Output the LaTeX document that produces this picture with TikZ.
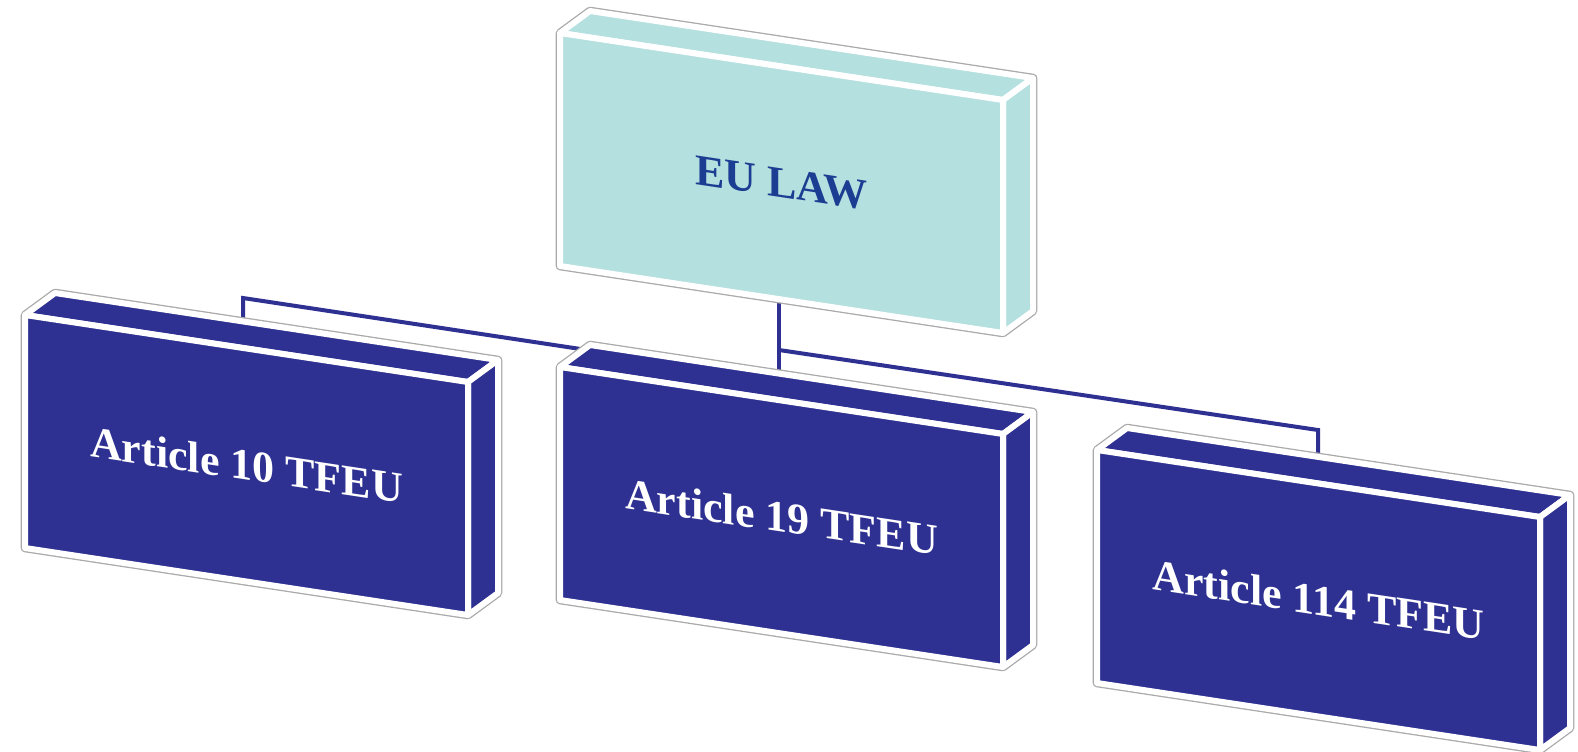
\documentclass[tikz,border=0pt]{standalone}
\usepackage{fontspec}
\setmainfont{Liberation Serif}
\definecolor{boxblue}{RGB}{46,49,146}
\definecolor{boxteal}{RGB}{181,224,224}
\definecolor{lawblue}{RGB}{28,62,146}
\definecolor{rimgray}{RGB}{170,170,170}
\tikzset{
  rim/.style={draw=rimgray, line width=4.3pt, line join=round},
  face/.style={draw=white, line width=3pt, line join=round},
  conn/.style={draw=boxblue, line width=2pt},
  lbl/.style={font=\fontsize{22}{26}\selectfont\bfseries, yslant=-0.151, inner sep=0pt},
}
% #1 name, #2 x, #3 y (front top-left, px), #4 fill, #5 text colour, #6 text
\newcommand\perspbox[6]{%
  \begin{scope}[shift={(#2,#3)}]
    \path[rim] (0,0) -- (30,-22) -- (473,45) -- (473,278) -- (443,300) -- (0,233) -- cycle;
    \path[face, fill=#4] (0,0) -- (30,-22) -- (473,45) -- (443,67) -- cycle;
    \path[face, fill=#4] (443,67) -- (473,45) -- (473,278) -- (443,300) -- cycle;
    \path[face, fill=#4] (0,0) -- (443,67) -- (443,300) -- (0,233) -- cycle;
    \node[lbl, text=#5] (#1) at (221.5,150) {#6};
  \end{scope}}
\begin{document}
\begin{tikzpicture}[x=0.5pt, y=-0.5pt]
\useasboundingbox (0,0) rectangle (1578,751);
% connector points
\coordinate (eub) at (779,290);
\coordinate (j1) at (779,350);
\coordinate (j2) at (1318,430);
\coordinate (r114) at (1318,462);
\coordinate (m19) at (779,392);
\coordinate (l10) at (243,335);
\coordinate (lt) at (243,298);
\coordinate (lend) at (779,379);
% connectors (behind boxes)
\draw[conn] (eub) -- (m19);
\draw[conn] (j1) -- (j2) -- (r114);
\draw[conn, line join=miter] (l10) -- (lt) -- (lend);
% boxes
\perspbox{eu}{560}{33}{boxteal}{lawblue}{EU LAW}
\perspbox{a10}{25}{315}{boxblue}{white}{Article 10 TFEU}
\perspbox{a19}{560}{367}{boxblue}{white}{Article 19 TFEU}
\perspbox{a114}{1097}{450}{boxblue}{white}{Article 114 TFEU}
\end{tikzpicture}
\end{document}
